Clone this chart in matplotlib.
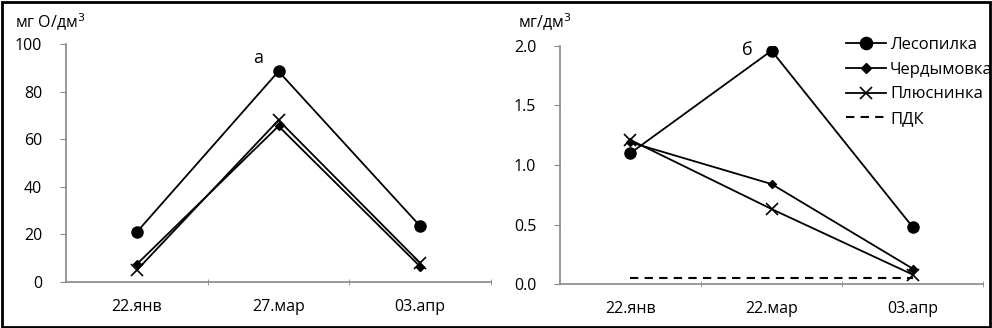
import numpy as np
import matplotlib.pyplot as plt
from matplotlib.patches import Rectangle

plt.rcParams['font.family'] = ['Open Sans', 'DejaVu Sans']

dates_a = ["22.янв", "27.мар", "03.апр"]
dates_b = ["22.янв", "22.мар", "03.апр"]
names = ["Лесопилка", "Чердымовка", "Плюснинка"]

# panel a, мг О/дм3
les_a = [21, 88.5, 23.5]
cher_a = [7.5, 65.5, 6.5]
plus_a = [5, 68, 8]

# panel b, мг/дм3
les_b = [1.1, 1.96, 0.48]
cher_b = [1.19, 0.84, 0.13]
plus_b = [1.21, 0.63, 0.08]
pdk_b = [0.05, 0.05, 0.05]

fig = plt.figure(figsize=(9.92, 3.28), dpi=100)
ax1 = fig.add_axes([0.0665, 0.140, 0.4285, 0.726])
ax2 = fig.add_axes([0.5645, 0.134, 0.4265, 0.726])

styles = [dict(marker="o", ms=8), dict(marker="D", ms=4.5), dict(marker="x", ms=8, mew=1.2)]

def setup(ax, labels, ylim, yticks, fmt):
    x = np.arange(len(labels))
    ax.set_xlim(-0.5, len(labels) - 0.5)
    ax.set_ylim(*ylim)
    for s in ["top", "right"]:
        ax.spines[s].set_visible(False)
    for s in ["left", "bottom"]:
        ax.spines[s].set_color("#888888")
        ax.spines[s].set_linewidth(1.2)
    ax.set_xticks(x)
    ax.set_xticklabels(labels, fontsize=11.5)
    ax.tick_params(axis="x", which="major", length=0, pad=12)
    ax.set_xticks(np.arange(0.5, len(labels) - 0.5 + 1e-9, 1.0), minor=True)
    ax.tick_params(axis="x", which="minor", length=5, color="#888888", direction="inout")
    ax.set_yticks(yticks)
    ax.set_yticklabels([fmt.format(v) for v in yticks], fontsize=11.5)
    ax.tick_params(axis="y", length=4, color="#888888", pad=13)
    return x

x1 = setup(ax1, dates_a, (0, 100), np.arange(0, 101, 20), "{:.0f}")
for vals, st in zip([les_a, cher_a, plus_a], styles):
    ax1.plot(x1, vals, color="black", lw=1.3, mec="black", mfc="black", **st)
ax1.text(0.44, 0.92, "а", transform=ax1.transAxes, fontsize=13)
fig.text(0.015, 0.915, "мг О/дм$^3$", fontsize=11.5)

x2 = setup(ax2, dates_b, (0, 2.0), np.arange(0, 2.01, 0.5), "{:.1f}")
for vals, name, st in zip([les_b, cher_b, plus_b], names, styles):
    ax2.plot(x2, vals, color="black", lw=1.3, mec="black", mfc="black", label=name, **st)
ax2.plot(x2, pdk_b, color="black", lw=1.5, ls=(0, (4, 3)), label="ПДК")
ax2.text(0.43, 0.96, "б", transform=ax2.transAxes, fontsize=13)
fig.text(0.522, 0.915, "мг/дм$^3$", fontsize=11.5)
ax2.legend(loc="upper left", bbox_to_anchor=(0.66, 1.065), frameon=False, fontsize=12,
           handlelength=2.4, handletextpad=0.25, labelspacing=0.52, markerscale=1.1,
           borderaxespad=0)

fig.patches.append(Rectangle((0.002, 0.004), 0.996, 0.99, transform=fig.transFigure,
                             fill=False, edgecolor="black", lw=2))

fig.savefig("out.png", dpi=100)
